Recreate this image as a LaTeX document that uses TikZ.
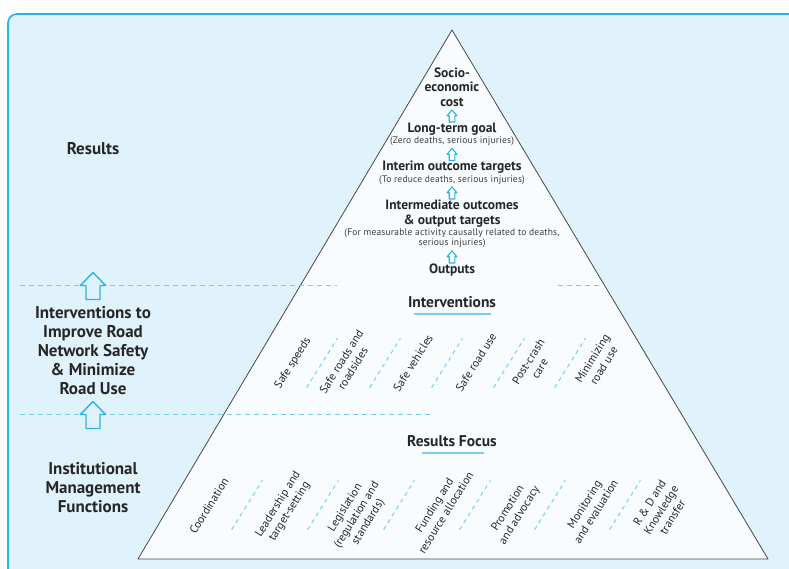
\documentclass[tikz,border=0pt]{standalone}
\usepackage{fontspec}
\setmainfont{PT Sans}
\usepackage{tikz}

\definecolor{panelblue}{RGB}{224,242,252}
\definecolor{framecyan}{RGB}{38,180,230}
\definecolor{dashcyan}{RGB}{118,205,242}
\definecolor{pyrfill}{RGB}{248,252,255}
\definecolor{ink}{RGB}{38,38,38}

\tikzset{
  hollowup/.pic={
    \draw[pic actions] (-0.28,-0.5) -- (0.28,-0.5) -- (0.28,0.02) -- (0.5,0.02)
      -- (0,0.5) -- (-0.5,0.02) -- (-0.28,0.02) -- cycle;
  }
}

\begin{document}
\begin{tikzpicture}[x=1pt, y=1pt, line join=round,
    sidehead/.style={font=\bfseries\fontsize{17}{19}\selectfont, align=center, text=ink},
    stage/.style={font=\bfseries\fontsize{13.5}{14.5}\selectfont, align=center, text=ink},
    note/.style={font=\fontsize{9.5}{10.5}\selectfont\addfontfeature{LetterSpace=2}, align=center, text=ink!90},
    section/.style={font=\bfseries\fontsize{15.5}{17}\selectfont, text=ink},
    pillar/.style={rotate=58, font=\fontsize{11.5}{13.5}\selectfont, align=center, text=ink},
    sepline/.style={dashcyan, line width=1pt, dash pattern=on 4pt off 4pt},
    levelline/.style={dashcyan, line width=0.8pt, dash pattern=on 5pt off 4pt},
    bigarrow/.style={draw=framecyan, fill=panelblue, line width=1.4pt},
    smallarrow/.style={draw=framecyan, fill=white, line width=1.1pt}]

    \clip (0,0) rectangle (789,569);

    % panel and pyramid
    \filldraw[fill=panelblue, draw=framecyan, line width=1.6pt, rounded corners=9pt]
        (8,-20) rectangle (830,555);
    \filldraw[fill=pyrfill, draw=ink!85, line width=0.8pt]
        (138,10) -- (452,539) -- (768,10) -- cycle;

    % level boundaries
    \draw[levelline] (20,284) -- (337,284);
    \draw[levelline] (558,284) -- (602,284);
    \draw[levelline] (20,155) -- (432,155);

    \pic[bigarrow, xscale=25, yscale=27] at (93,283) {hollowup};
    \pic[bigarrow, xscale=25, yscale=27] at (93,154) {hollowup};

    % left column
    \node[sidehead] (results) at (93,420) {Results};
    \node[sidehead] (interv) at (93,218) {Interventions to\\Improve Road\\Network Safety\\\& Minimize\\Road Use};
    \node[sidehead] (instit) at (93,81) {Institutional\\Management\\Functions};

    % results chain
    \node[stage] (socio) at (452,482) {Socio-\\economic\\cost};
    \node[stage] (goal) at (452,440) {Long-term goal};
    \node[note] (goalnote) at (452,428) {(Zero deaths, serious injuries)};
    \node[stage] (interim) at (452,402) {Interim outcome targets};
    \node[note] (interimnote) at (452,389) {(To reduce deaths, serious injuries)};
    \node[stage] (intermed) at (452,355.5) {Intermediate outcomes\\\& output targets};
    \node[note] (intermednote) at (452,331) {(For measurable activity causally related to deaths,\\serious injuries)};
    \node[stage] (outputs) at (452,299) {Outputs};

    \foreach \y in {453,414.5,376,312}
        \pic[smallarrow, xscale=10, yscale=12] at (452,\y) {hollowup};

    % interventions
    \node[section] (intervhead) at (452,267) {Interventions};
    \draw[dashcyan, line width=1.5pt] (414,255) -- (491,255);

    \node[pillar] (speeds) at (293,206) {Safe speeds};
    \node[pillar] (roads) at (347,204) {Safe roads and\\roadsides};
    \node[pillar] (vehicles) at (413,206) {Safe vehicles};
    \node[pillar] (roaduse) at (476,207) {Safe road use};
    \node[pillar] (postcrash) at (534,204) {Post-crash\\care};
    \node[pillar] (minimize) at (598,207) {Minimizing\\road use};

    \foreach \x in {322,385,447,509,570}
        \draw[sepline] (\x,206) ++(238:29) -- ++(58:58);

    % institutional functions
    \node[section] (focushead) at (452,128) {Results Focus};
    \draw[dashcyan, line width=1.5pt] (422,116) -- (484,116);

    \node[pillar] (coord) at (209,63) {Coordination};
    \node[pillar] (lead) at (284,61) {Leadership and\\target-setting};
    \node[pillar] (legis) at (357,54) {Legislation\\(regulation and\\standards)};
    \node[pillar] (funding) at (440,60) {Funding and\\resource allocation};
    \node[pillar] (promo) at (514,57) {Promotion\\and advocacy};
    \node[pillar] (monitor) at (590,61) {Monitoring\\and evaluation};
    \node[pillar] (rnd) at (661,59) {R \& D and\\Knowledge\\transfer};

    \foreach \x in {247,323,399,475,550,625}
        \draw[sepline] (\x,64) ++(238:29) -- ++(58:58);
\end{tikzpicture}
\end{document}
